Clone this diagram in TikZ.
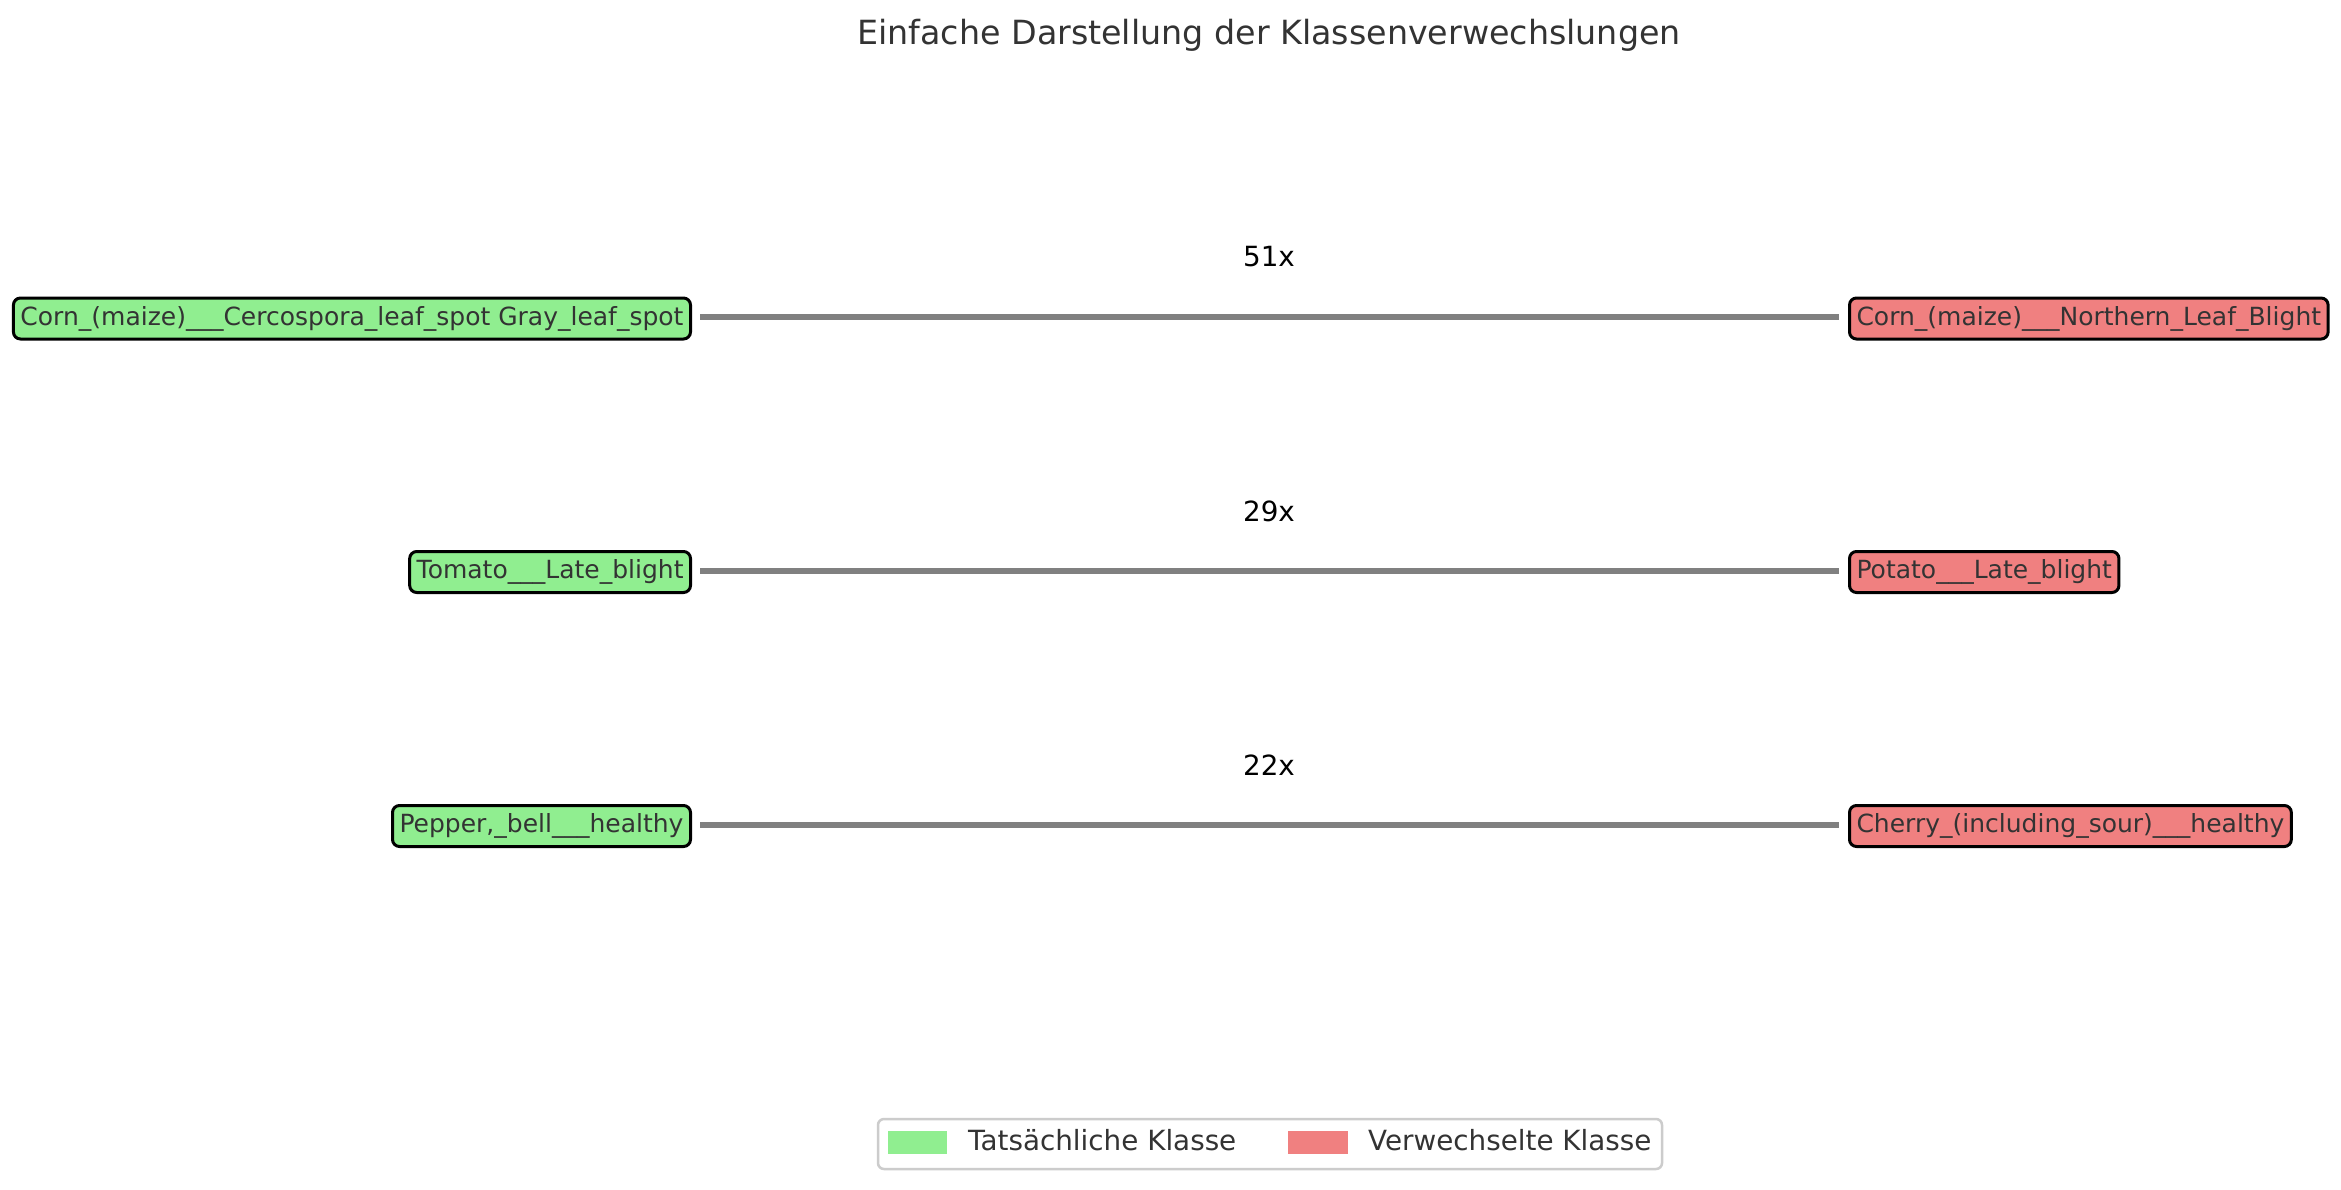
\documentclass[tikz,border=0pt]{standalone}
\usepackage{fontspec}
\setmainfont{DejaVu Sans}
\definecolor{lgreen}{HTML}{90EE90}
\definecolor{lcoral}{HTML}{F08080}
\definecolor{txt}{HTML}{333333}
\definecolor{legframe}{HTML}{CCCCCC}
\begin{document}
\begin{tikzpicture}[x=1pt,y=-1pt,
  cls/.style={draw=black,line width=3pt,rounded corners=7pt,inner xsep=7pt,inner ysep=0pt,
    minimum height=41pt,text height=18.5pt,text depth=5.5pt,
    font=\fontsize{25}{30}\selectfont,text=txt},
  actual/.style={cls,fill=lgreen,anchor=east},
  confused/.style={cls,fill=lcoral,anchor=west},
  link/.style={draw=gray,line width=5.5pt},
  count/.style={font=\fontsize{27.8}{33}\selectfont,text=black,inner sep=0pt},
  legtext/.style={font=\fontsize{27.8}{33}\selectfont,text=txt,anchor=west,inner sep=0pt,text height=20pt,text depth=6pt}]
\useasboundingbox[fill=white] (0,0) rectangle (2341,1189);
\node[font=\fontsize{33.3}{40}\selectfont,text=txt,inner sep=0pt] (title) at (1269,35) {Einfache Darstellung der Klassenverwechslungen};
% row 1
\node[actual] (a1) at (692,318.5) {Corn\_(maize)\_\_\_Cercospora\_leaf\_spot Gray\_leaf\_spot};
\node[confused] (c1) at (1848,318.5) {Corn\_(maize)\_\_\_Northern\_Leaf\_Blight};
\coordinate (s1) at (700,317);
\coordinate (e1) at (1839,317);
\draw[link] (s1) -- (e1);
\node[count] (n1) at (1269,257) {51x};
% row 2
\node[actual] (a2) at (692,572) {Tomato\_\_\_Late\_blight};
\node[confused] (c2) at (1848,572) {Potato\_\_\_Late\_blight};
\coordinate (s2) at (700,571);
\coordinate (e2) at (1839,571);
\draw[link] (s2) -- (e2);
\node[count] (n2) at (1269,511) {29x};
% row 3
\node[actual] (a3) at (692,826) {Pepper,\_bell\_\_\_healthy};
\node[confused] (c3) at (1848,826) {Cherry\_(including\_sour)\_\_\_healthy};
\coordinate (s3) at (700,825);
\coordinate (e3) at (1839,825);
\draw[link] (s3) -- (e3);
\node[count] (n3) at (1269,765) {22x};
% legend
\draw[legframe,line width=2.5pt,rounded corners=6pt,fill=white] (878,1119) rectangle (1662,1169);
\fill[lgreen] (888,1131) rectangle (947,1154);
\node[legtext] (l1) at (968,1143) {Tatsächliche Klasse};
\fill[lcoral] (1288,1131) rectangle (1348,1154);
\node[legtext] (l2) at (1368,1143) {Verwechselte Klasse};
\end{tikzpicture}
\end{document}
